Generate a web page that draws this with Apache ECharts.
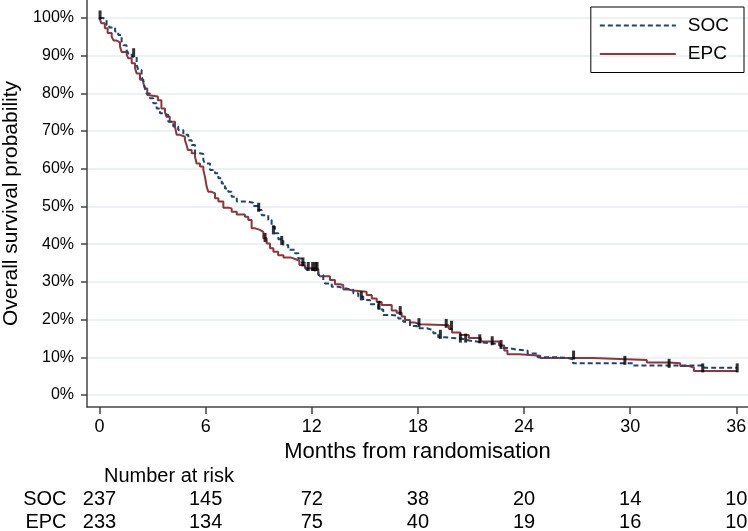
<!DOCTYPE html>
<html>
<head>
<meta charset="utf-8">
<script src="https://cdn.jsdelivr.net/npm/echarts@6/dist/echarts.min.js"></script>
<style>
  html, body { margin: 0; padding: 0; background: #fff; }
  #chart { width: 748px; height: 531px; }
</style>
</head>
<body>
<div id="chart"></div>
<script>
// Kaplan-Meier estimates: [months, survival %]
const socCurve = [
  [0, 100], [0.2, 99.5], [0.4, 98.1], [0.55, 97.5], [0.88, 96.4], [1.06, 95.5],
  [1.25, 93.7], [1.35, 92.8], [1.53, 91.5], [1.63, 90.6], [1.82, 89.7], [2.1, 87.5],
  [2.2, 86.2], [2.38, 84.4], [2.48, 83.1], [2.57, 81.3], [2.66, 80], [2.85, 78.7],
  [3.04, 77.4], [3.23, 76], [3.42, 74.7], [3.6, 74.3], [3.89, 72.5], [4.17, 71.2],
  [4.45, 70.3], [4.74, 69], [5.02, 67.6], [5.21, 66.3], [5.4, 64.1], [5.68, 63.9],
  [5.87, 62.3], [5.96, 61.4], [6.25, 59.7], [6.53, 58.8], [6.72, 57.5], [6.91, 56.1],
  [7.09, 54.8], [7.28, 53.9], [7.47, 52.6], [7.76, 51.3], [8.41, 51], [8.69, 50.1],
  [8.98, 49.1], [9.17, 47.7], [9.54, 46.4], [9.73, 44.6], [9.92, 42.9], [10.11, 41.3],
  [10.39, 39.8], [10.67, 38.5], [11.05, 37.6], [11.24, 36.2], [11.43, 35.1], [11.62, 34],
  [11.71, 33.2], [12.09, 32.7], [12.37, 31.8], [12.65, 30.5], [12.75, 29.6], [13.13, 28.7],
  [13.5, 28.3], [13.88, 27.9], [14.35, 27], [14.63, 26.1], [14.91, 25.2], [15.29, 24.1],
  [15.76, 22.7], [16.04, 21.2], [16.52, 21], [16.89, 20.3], [17.17, 19.4], [17.55, 18.3],
  [17.93, 17.7], [18.5, 17.2], [18.87, 16.4], [19.15, 15.3], [19.53, 14.9], [20.5, 14.4],
  [20.98, 14], [21.55, 13.5], [22.68, 12.5], [23.06, 12], [23.63, 11.8], [24.2, 11],
  [24.77, 10], [25.91, 9.8], [26.48, 9.5], [26.77, 8.4], [30.18, 7.8], [34.2, 7.2],
  [36.05, 7.2]
];
const epcCurve = [
  [0, 100], [0.1, 98.6], [0.3, 97.3], [0.46, 96], [0.69, 95], [0.8, 94], [0.97, 93.5],
  [1.16, 92.4], [1.25, 91], [1.54, 90.2], [1.63, 89.3], [1.82, 88], [2.01, 86.7],
  [2.1, 85.3], [2.29, 83.6], [2.48, 82.7], [2.57, 81.3], [2.7, 79.6], [2.8, 79.2],
  [3.3, 78.2], [3.5, 76], [3.7, 75.1], [3.78, 73.8], [3.97, 72.5], [4.27, 71.2],
  [4.36, 69], [4.55, 68.5], [4.83, 67.6], [4.92, 66.3], [5.0, 65], [5.21, 64.1],
  [5.4, 63.2], [5.49, 61.4], [5.68, 60.6], [5.87, 59.7], [5.96, 57.9], [6.06, 55.2],
  [6.15, 53.9], [6.34, 53.5], [6.53, 52.2], [6.72, 51.3], [7.0, 49.7], [7.28, 49.5],
  [7.47, 48.6], [7.76, 47.9], [8.22, 47.3], [8.41, 46.4], [8.6, 44.2], [8.8, 43.8],
  [9.07, 43.3], [9.26, 41.6], [9.45, 40.2], [9.64, 38.9], [9.83, 38], [10.1, 37.1],
  [10.4, 36.5], [10.8, 36], [11.1, 35.6], [11.3, 34.5], [11.62, 33.6], [12.18, 33.3],
  [12.37, 32.1], [12.46, 31.5], [13.03, 30.5], [13.31, 29.4], [13.59, 29.2], [13.78, 28],
  [14.06, 27.7], [14.34, 27.4], [15.1, 26.5], [15.39, 25.6], [15.67, 24.7], [15.95, 23.9],
  [16.52, 22.4], [16.8, 21.8], [17.08, 20.8], [17.27, 19.9], [17.55, 19.2], [17.84, 18.8],
  [18.12, 18.5], [19.75, 17.5], [19.93, 16.6], [20.4, 15.9], [20.88, 15.1], [21.55, 14.2],
  [22.59, 13.1], [22.88, 11.8], [23.06, 10.8], [23.73, 10.4], [24.92, 9.8], [27.9, 9.3],
  [30.94, 8.6], [32.17, 8.4], [32.83, 7.7], [33.31, 7.3], [33.6, 6.4], [36.05, 6.4]
];
// censoring marks: [months, survival %]
const censored = [
  [0.03, 100], [1.93, 90], [9.0, 49], [9.36, 41], [9.83, 43], [10.3, 40.2],
  [11.5, 34.5], [11.8, 33.3], [12.05, 33.3], [12.2, 33.3], [12.3, 33.3], [14.8, 25.5],
  [15.8, 23], [17.0, 21.6], [18.06, 18.4], [19.27, 15.3], [19.6, 18.2], [19.9, 17.7],
  [20.4, 14.3], [20.7, 14.3], [21.5, 14.1], [22.2, 13.6], [22.7, 12.6], [26.8, 9.8],
  [29.7, 8.4], [32.2, 7.6], [34.1, 6.4], [36.05, 6.4]
];
const monthTicks = [0, 6, 12, 18, 24, 30, 36];
const percentTicks = [0, 10, 20, 30, 40, 50, 60, 70, 80, 90, 100];
const socAtRisk = [237, 145, 72, 38, 20, 14, 10];
const epcAtRisk = [233, 134, 75, 40, 19, 16, 10];

const FONT = 'Liberation Sans, Arial, sans-serif';
const X_MIN = -0.707, X_MAX = 36.66;

// extra x axes that carry the number-at-risk rows under the ticks
function riskAxis(name, values, offset) {
  return {
    type: 'value', min: X_MIN, max: X_MAX, position: 'bottom', offset: offset,
    axisLine: { show: false, onZero: false }, axisTick: { show: false }, splitLine: { show: false },
    name: name, nameLocation: 'start', nameGap: 20.5,
    nameTextStyle: { fontFamily: FONT, fontSize: 20, color: '#000', verticalAlign: 'top', align: 'right' },
    axisLabel: {
      customValues: monthTicks, margin: 0, fontFamily: FONT, fontSize: 20, color: '#000',
      formatter: v => values[monthTicks.indexOf(Math.round(v))]
    }
  };
}

const chart = echarts.init(document.getElementById('chart'));
chart.setOption({
  animation: false,
  title: {
    text: 'Number at risk', left: 99, top: 461,
    textStyle: { fontFamily: FONT, fontSize: 20, fontWeight: 'normal', color: '#000' }
  },
  legend: {
    data: ['SOC', 'EPC'], orient: 'vertical', right: 4, top: 7,
    borderColor: '#000', borderWidth: 1, padding: [9, 15, 9, 8],
    itemWidth: 76, itemHeight: 14, itemGap: 9.5,
    itemStyle: { opacity: 0 },
    textStyle: { fontFamily: FONT, fontSize: 19, color: '#000', padding: [0, 0, 0, 7] }
  },
  grid: { left: 87, right: 0, top: 0, bottom: 124, outerBoundsMode: 'none' },
  xAxis: [
    {
      type: 'value', min: X_MIN, max: X_MAX,
      name: 'Months from randomisation', nameLocation: 'middle', nameGap: 31,
      nameTextStyle: { fontFamily: FONT, fontSize: 22, color: '#000' },
      axisLine: { onZero: false, lineStyle: { color: '#444', width: 1.5 } },
      axisTick: { customValues: monthTicks, length: 7, lineStyle: { color: '#444', width: 1.5 } },
      axisLabel: { customValues: monthTicks, margin: 11, fontFamily: FONT, fontSize: 18, color: '#000' },
      splitLine: { show: false }
    },
    riskAxis('SOC', socAtRisk, 82),
    riskAxis('EPC', epcAtRisk, 105)
  ],
  yAxis: {
    type: 'value', min: -3.18, max: 104.77,
    name: 'Overall survival probability', nameLocation: 'middle', nameGap: 56,
    nameTextStyle: { fontFamily: FONT, fontSize: 21, color: '#000' },
    axisLine: { show: true, onZero: false, lineStyle: { color: '#444', width: 1.5 } },
    axisTick: { show: true, customValues: percentTicks, length: 6, lineStyle: { color: '#444', width: 1.5 } },
    axisLabel: {
      customValues: percentTicks, margin: 13, fontFamily: FONT, fontSize: 16, color: '#000',
      formatter: v => Math.round(v) + '%'
    },
    splitLine: { show: true, lineStyle: { color: '#e6eef0', width: 1.5 } }
  },
  series: [
    {
      name: 'SOC', type: 'line', step: 'end', symbol: 'none', data: socCurve,
      color: '#1a476f', lineStyle: { color: '#1a476f', width: 2, type: [5, 3] }, z: 3
    },
    {
      name: 'EPC', type: 'line', step: 'end', symbol: 'none', data: epcCurve,
      color: '#90353b', lineStyle: { color: '#90353b', width: 2 }, z: 2
    },
    {
      name: 'Censored', type: 'scatter', data: censored, symbol: 'rect',
      symbolSize: [3, 9], symbolOffset: [0, -3], itemStyle: { color: '#000' }, z: 4
    }
  ]
});
</script>
</body>
</html>
